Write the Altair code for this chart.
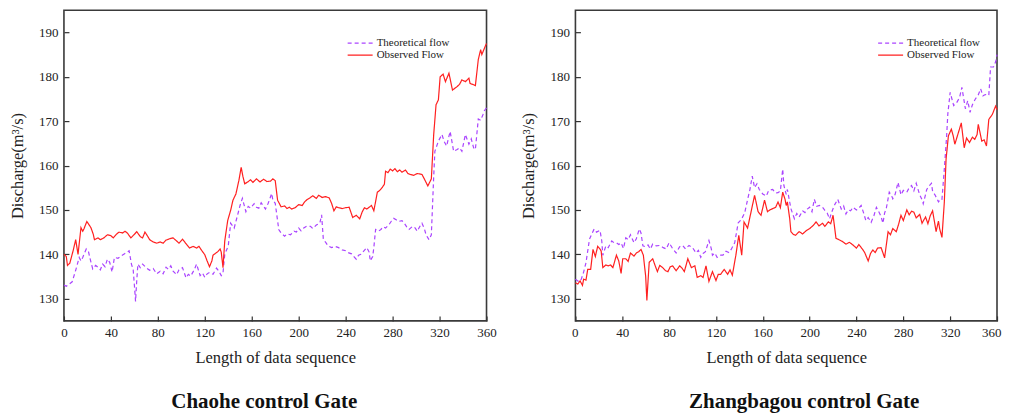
import altair as alt
import pandas as pd

FONT = "Liberation Serif"
PURPLE = "#AA44FF"
RED = "#FF2020"
SERIES = ["Theoretical flow", "Observed Flow"]

# ---------------- Chaohe control Gate ----------------
chaohe_obs_x = [0, 2, 3, 5, 8, 10, 12, 14.5, 16, 17, 19.5, 21, 23, 25, 26, 29, 31, 34, 37, 40, 42, 45, 47, 50, 52, 54, 57, 60, 62, 65, 67, 69, 71, 73, 76, 79, 82, 84.5, 87, 90, 93, 96, 98, 101, 104, 107, 110, 113, 115, 117, 120, 122, 124, 126, 127, 129, 131, 133, 134, 135.5, 137, 139.5, 142, 144, 146.5, 149, 151, 152.5, 154, 156.6, 159, 161, 164, 167, 170, 173, 176, 178, 180, 182, 185, 188, 190, 192, 194, 197, 200, 203, 205, 207, 210, 212, 215, 217, 220, 223, 226, 228, 230, 232, 234, 237, 240, 243, 246, 249, 252, 254, 256, 258, 260, 262, 264, 267, 269, 271, 273, 274, 276, 278, 280, 282, 284, 286, 288, 291, 293, 295, 298, 301, 305, 307, 310, 313, 315, 317, 319, 320.5, 323, 325, 328, 331, 333, 335, 337, 339, 342, 345, 346, 349, 350.5, 353, 355, 356, 358.8, 360]
chaohe_obs = [140, 139.5, 137.5, 138, 141, 143.3, 140, 146, 145.2, 145.7, 147.4, 146.8, 146, 144.5, 143.3, 143.7, 143.3, 143.7, 144.4, 144.2, 143.7, 144.6, 145, 144.8, 145.2, 144.8, 143.7, 144.5, 145.1, 144, 143.7, 145, 144.2, 143.3, 142.8, 142.5, 142.8, 142.5, 143.2, 143.5, 143.7, 143, 142.5, 143.4, 142.4, 141.4, 141.8, 141.4, 141.8, 141.0, 139.9, 138.5, 137.2, 138.5, 139.8, 140.2, 140.6, 141.2, 140.5, 137, 143, 147.6, 149.9, 152.2, 153.6, 156.6, 159.6, 157.5, 155.9, 156.3, 156.8, 156.2, 157, 156.3, 156.9, 156.4, 156.5, 157, 156.6, 152.2, 150.7, 150.9, 150.3, 150.6, 150.2, 150.5, 151.2, 151, 151.8, 152.3, 152.8, 153.2, 152.6, 153.3, 152.8, 153, 152.7, 151.5, 149.8, 150.7, 150.5, 150.3, 150.5, 150.6, 148.3, 148.8, 148, 149.5, 150.5, 150.2, 150.6, 151, 149.8, 154, 154.4, 155, 155.8, 158.7, 158.4, 159.2, 158.8, 159.3, 158.6, 159, 158.5, 159, 158.2, 158, 157.8, 158.2, 158, 157, 155.4, 157, 167, 173.7, 174.8, 180, 180.6, 178.9, 180.8, 177, 177.4, 177.8, 178.3, 179.3, 178.9, 179.7, 178.5, 178.2, 178, 183.9, 186.1, 185, 186.8, 187.5]

chaohe_theo_x = [0, 2, 4, 7, 10, 13, 14.5, 16, 19, 21, 22, 24.5, 27, 29, 31, 33, 35, 37, 39, 40, 41, 43, 46, 49, 52, 55.5, 57.5, 59, 60, 61, 62, 63, 65, 67, 70, 73, 76, 79, 82, 84.5, 87, 89, 91, 93, 96, 98, 101, 104, 106, 108, 111, 113, 116, 118, 120, 122, 124, 127, 130, 132, 134, 135.5, 137, 140, 142, 145, 148, 150, 152, 155, 157, 159, 162, 164, 166, 168, 171.7, 174, 177, 178, 180, 183, 185, 188, 190, 193, 196, 198, 200, 202, 204, 207, 210, 212, 215, 218, 219.5, 221, 223, 225, 228, 231, 234, 237, 240, 242, 245, 247, 249, 251, 253, 255, 258, 260, 261, 263, 264, 265.5, 268, 270, 272, 274, 277, 279, 281, 283, 285, 288, 290, 292, 294, 297, 299, 301, 303, 305, 307, 308.5, 311, 313, 315, 316, 319, 322, 324, 326, 329, 332, 335, 337, 339, 342, 345, 347, 349, 350.5, 353, 355, 357, 358, 360]
chaohe_theo = [133.1, 132.8, 133.2, 133.8, 136.4, 139.3, 138.5, 139.3, 141.2, 140.5, 139.3, 136.7, 137.5, 137.1, 136.5, 137.8, 137.2, 138.9, 138.2, 137.1, 136, 139.3, 139.1, 139.7, 140.2, 140.8, 137.8, 136.5, 133.1, 129.4, 134, 137.8, 137, 137.8, 137, 136.4, 136.8, 135.6, 136.2, 135.6, 137.1, 136.6, 137.4, 136.2, 135.4, 136.5, 137, 134.7, 135.5, 135.1, 136.5, 137.8, 135.2, 135.8, 134.8, 135.6, 135.9, 135.5, 136.9, 136.2, 135.2, 135.8, 140, 141.9, 147, 145.9, 148.9, 151, 152.6, 149.6, 150.8, 150.4, 151.4, 150.6, 150.4, 151.6, 150.2, 151.5, 153.7, 152.2, 151.5, 145.6, 144.8, 144.1, 144.6, 144.4, 145.2, 145, 145.9, 145.3, 145.9, 146.4, 146.3, 145.8, 146.6, 147, 148.9, 143.3, 142.7, 141.9, 141.5, 141.8, 141.5, 141, 140.8, 140.4, 140.1, 139.5, 138.9, 139.8, 140, 140.6, 141.5, 140.5, 138.5, 139.5, 141.5, 145.6, 145.2, 145.6, 146.2, 145.9, 146.7, 147.5, 148.1, 147.8, 147.4, 147.6, 147, 146.2, 145.6, 146.3, 146, 145.2, 146.2, 147, 145.8, 144.4, 143.3, 144.4, 157.5, 163.2, 165.5, 167, 165.4, 164.4, 167.7, 163.2, 163.6, 164, 163.2, 167, 164.8, 166, 164, 163.6, 170.5, 170.2, 171.5, 172.3, 173]

# ---------------- Zhangbagou control Gate ----------------
zbg_obs_x = [0, 2, 4, 6, 7, 9, 10.5, 13, 15, 17, 19, 21, 22, 23.4, 26, 28, 30, 32, 35, 37, 39, 40.4, 43, 45, 47, 50, 52, 54, 56, 58, 59, 60, 61, 62, 63, 66, 68, 70, 72, 74.5, 77, 79, 81, 83, 86, 89, 91, 93, 96, 99, 102, 104, 107, 109, 111.5, 114, 117, 120, 122, 124, 127, 130, 132, 134, 137, 139.5, 142, 144, 147, 150, 153, 156, 158.5, 161.5, 164, 166, 168.5, 171, 173, 175, 177, 179, 180, 181, 183, 184, 186, 188, 191, 194, 197, 200, 203, 205.5, 208, 211, 213, 216, 218, 220, 222.5, 225, 228, 231, 234, 237, 240, 242, 245, 247, 250, 252, 254, 256, 258, 261, 262.5, 264, 267, 269, 271, 274, 276, 278, 280, 283, 285, 287, 289, 291, 294, 296, 297, 299, 301, 303, 305, 307, 308, 310, 311, 313, 315, 316.5, 318.5, 321, 322.5, 324, 327, 329.5, 332, 334, 336.5, 339, 341, 343, 344, 347, 349, 351, 353, 356, 358.8, 360]
zbg_obs = [133.6, 133.3, 134, 133, 134.4, 134.2, 136.6, 136.6, 141.1, 139.5, 141.8, 141.2, 140.7, 137, 137.6, 137.4, 137.6, 137, 139.8, 138.5, 135.7, 139, 139, 138.4, 140.3, 139.6, 140.3, 140.6, 141.1, 139.8, 137.4, 135, 129.6, 134, 138.2, 139, 137.5, 136.1, 137.5, 137, 136.3, 136.1, 137.2, 137.4, 136.3, 137.4, 136.9, 136.1, 139, 137, 137.4, 134.8, 135.2, 134.8, 137.4, 133.9, 136.1, 134.1, 135.5, 135.5, 136.6, 135.5, 136.5, 135.3, 139.8, 144.3, 139.8, 147.3, 145.9, 149.6, 153.3, 149.6, 148.8, 152.2, 149.6, 150, 150.3, 150.6, 151.8, 150.5, 154, 152.4, 151, 151.8, 148, 145.1, 144.5, 144.3, 145.1, 144.6, 145.3, 145.8, 146.5, 147.3, 146.4, 147, 146.3, 147.3, 146.9, 148.8, 143.6, 143.3, 142.9, 142.3, 142.7, 142.1, 141.4, 142.2, 141.2, 140.4, 138.5, 140.2, 141, 140.4, 141.4, 141.5, 140.4, 139.2, 145.1, 144.4, 145.8, 145.1, 146.8, 148.8, 147.6, 150, 148.9, 149.7, 149.5, 148.2, 149, 147, 147.5, 148.4, 146.9, 148.7, 149.8, 146.7, 145.1, 147.5, 145.8, 143.8, 151.7, 161.4, 166.7, 168.2, 166.8, 164.8, 167.4, 169.6, 164, 166.2, 165.2, 166.4, 165.9, 167, 169.3, 165.5, 165.8, 164.4, 170.4, 171.5, 173.4, 172.6]

zbg_theo_x = [0, 3, 5, 7, 9, 12, 14, 16, 18, 21, 22.5, 23.4, 26, 28, 31, 33, 35, 37, 39, 41, 43, 45, 47, 50, 52, 54.5, 56, 57.6, 60, 62, 64, 66, 69, 72, 75, 77.5, 80, 83, 86, 89, 91.6, 94, 97, 100, 103, 105, 107, 109, 111, 114, 116, 117, 119, 121, 124, 126, 128.6, 131, 133, 136, 139, 141.6, 144.5, 147, 149, 151, 153, 155, 157, 160, 163, 165, 168.5, 171, 173, 175, 177, 178, 180, 181, 184, 187, 189, 191, 194, 196, 198, 200, 202, 204, 206, 208.5, 211, 213, 215, 217, 219, 221, 224, 227, 229, 231, 233, 235, 237, 240, 242, 244, 246, 248, 250, 252.5, 255, 257, 260, 261, 262.6, 264, 265.5, 268, 270, 271, 273, 275.5, 278, 280, 283, 285, 287, 289, 291, 294, 296, 297, 299, 300, 302, 304, 305, 307, 309, 310, 312, 313, 315, 317, 318, 320, 323, 325.6, 328, 330, 333, 335, 337, 339, 341.5, 344, 346, 348, 350, 353, 354.5, 357, 359, 360]
zbg_theo = [134.4, 133.8, 134.4, 136, 138.1, 143.4, 144.6, 145.7, 145, 145.4, 143, 139.8, 141.9, 141.5, 143, 142.6, 142.6, 142.2, 142.6, 141.3, 143.7, 143.3, 144.4, 142.6, 143.5, 145.7, 144.8, 141.9, 141.7, 142.1, 141.2, 142.3, 141.9, 142, 141.5, 141.2, 142.6, 141.3, 140.3, 141.7, 142, 141.2, 142, 141.5, 140.3, 140.9, 139.3, 140.2, 140.6, 143.1, 141.3, 139.8, 140.3, 139.3, 139.8, 139.8, 140.7, 140.4, 141.1, 142.6, 147.1, 147.8, 149.3, 152.3, 154.6, 157.6, 155, 155.9, 154.6, 153.6, 153.1, 154.4, 154.6, 153.8, 153.9, 154.3, 159.2, 155.5, 153.5, 154.6, 150.3, 148, 149.2, 148.4, 149.8, 149.4, 150.2, 150.6, 149.6, 152.4, 150.8, 151, 150.6, 149.9, 149.3, 148, 149.6, 151, 152.4, 150.2, 150.9, 149.1, 150, 149.8, 150.6, 150, 150.4, 151, 149.4, 147.6, 148.3, 147.2, 148.8, 150.6, 149.1, 148.5, 147, 149.3, 150.4, 154, 153.2, 152.5, 153.5, 156.2, 153.4, 154.4, 154, 155, 155.5, 154.3, 156, 153.4, 152.3, 151.4, 153.5, 154.6, 155.4, 156, 154.2, 153.4, 152.4, 151.8, 152.5, 152.4, 159.2, 166.7, 171.6, 176.5, 173.5, 174.2, 175.3, 177.6, 172.8, 174.6, 172, 173.7, 175, 175.9, 177.3, 175.7, 176, 175.8, 182.2, 182.2, 183.5, 185]

X_TICKS = [0, 40, 80, 120, 160, 200, 240, 280, 320, 360]
Y_TICKS = [130, 140, 150, 160, 170, 180, 190]

AXIS_TEXT = dict(labelFont=FONT, labelFontSize=13, labelColor="#222",
                 titleFont=FONT, titleFontSize=16.5, titleFontWeight="normal", titleColor="#222")


def panel(obs_x, obs, theo_x, theo, title, dx, leg_x, leg_y, width, height, flush):
    df = pd.DataFrame({
        "x": list(theo_x) + list(obs_x),
        "y": list(theo) + list(obs),
        "series": [SERIES[0]] * len(theo_x) + [SERIES[1]] * len(obs_x),
    })
    xs = alt.Scale(domain=[0, 360], nice=False, zero=False)
    ys = alt.Scale(domain=[125, 195], nice=False, zero=False)
    legend = alt.Legend(
        title=None, orient="none", legendX=leg_x, legendY=leg_y,
        symbolType="stroke", symbolSize=625, symbolStrokeWidth=1.2,
        labelFont=FONT, labelFontSize=11, labelColor="#222",
        rowPadding=0, labelOffset=3, padding=0, clipHeight=12,
    )
    flush_opts = dict(labelFlush=True, labelFlushOffset=4) if flush else dict(labelFlush=False)
    lines = alt.Chart(df).mark_line(strokeWidth=1.2).encode(
        x=alt.X("x:Q", scale=xs, axis=alt.Axis(
            orient="bottom", values=X_TICKS, ticks=False, domain=False, grid=False,
            labelPadding=6, title="Length of data sequence",
            titlePadding=10, **flush_opts, **AXIS_TEXT)),
        y=alt.Y("y:Q", scale=ys, axis=alt.Axis(
            orient="left", values=Y_TICKS, ticks=False, domain=False, grid=False,
            labelFlush=False, labelPadding=6, title="Discharge(m³/s)", titlePadding=13,
            **AXIS_TEXT)),
        color=alt.Color("series:N", scale=alt.Scale(domain=SERIES, range=[PURPLE, RED]), legend=legend),
        strokeDash=alt.StrokeDash("series:N", scale=alt.Scale(domain=SERIES, range=[[4, 3], [1, 0]]), legend=legend),
    )
    ticks = alt.Chart(df).mark_line(strokeOpacity=0).encode(
        x=alt.X("x:Q", scale=xs, axis=alt.Axis(
            orient="bottom", values=X_TICKS, labels=False, domain=False, grid=False,
            tickSize=5, offset=-5, tickColor="#333", tickWidth=1.2, title=None)),
        y=alt.Y("y:Q", scale=ys, axis=alt.Axis(
            orient="left", values=Y_TICKS, labels=False, domain=False, grid=False,
            tickSize=5, offset=-5, tickColor="#333", tickWidth=1.2, title=None)),
        detail="series:N",
    )
    return alt.layer(lines, ticks).resolve_axis(x="independent", y="independent").properties(
        width=width, height=height,
        title=alt.TitleParams(title, orient="bottom", fontSize=21, font=FONT, fontWeight="bold",
                              color="#111", offset=25, dx=dx, anchor="middle"),
    )


left = panel(chaohe_obs_x, chaohe_obs, chaohe_theo_x, chaohe_theo, "Chaohe control Gate", -11, 283, 27, 423, 311, False)
right = panel(zbg_obs_x, zbg_obs, zbg_theo_x, zbg_theo, "Zhangbagou control Gate", 18, 302, 27, 422, 311, True)

chart = alt.hconcat(left, right, spacing=22).resolve_legend(
    color="independent", strokeDash="independent"
).properties(
    padding={"top": 1, "left": 0, "right": 0, "bottom": 0}
).configure_view(stroke="#3a3a3a", strokeWidth=1.6)

chart.save("out.html", embed_options={"renderer": "svg", "actions": False})
